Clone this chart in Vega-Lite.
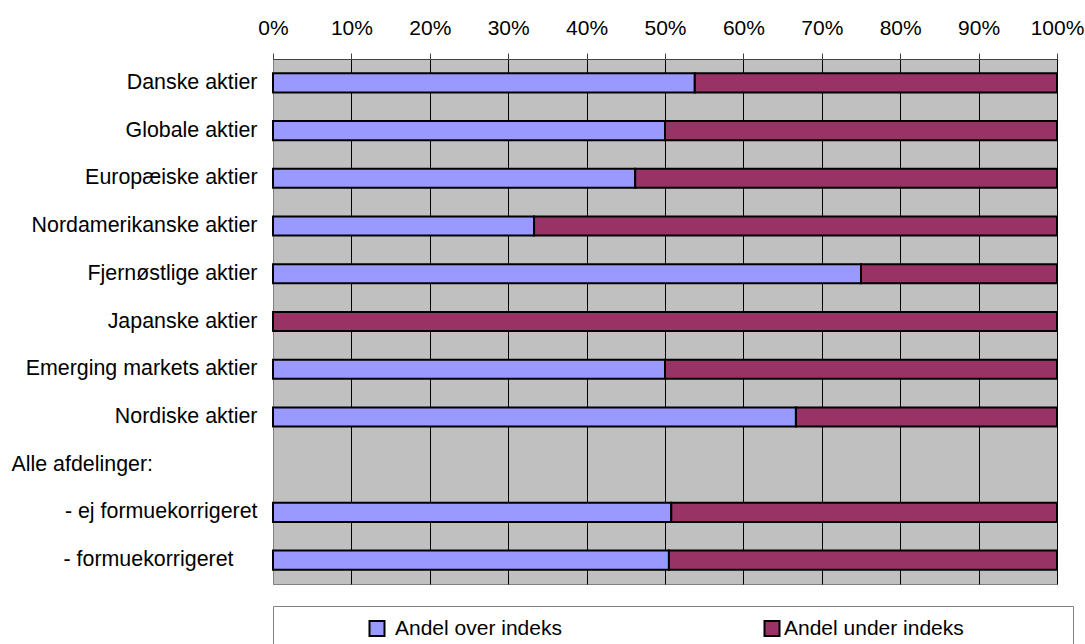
{
  "$schema": "https://vega.github.io/schema/vega-lite/v6.json",
  "padding": {"left": 10, "top": 16, "right": 4, "bottom": 0},
  "background": "white",
  "config": {"font": "Liberation Sans", "view": {"stroke": null}},
  "spacing": 20,
  "vconcat": [
    {
      "width": 784,
      "height": 525,
      "view": {"fill": "#C0C0C0", "stroke": "#808080"},
      "data": {
        "values": [
          {"category": "Danske aktier", "series": "Andel over indeks", "value": 53.8},
          {"category": "Danske aktier", "series": "Andel under indeks", "value": 46.2},
          {"category": "Globale aktier", "series": "Andel over indeks", "value": 50.0},
          {"category": "Globale aktier", "series": "Andel under indeks", "value": 50.0},
          {"category": "Europæiske aktier", "series": "Andel over indeks", "value": 46.2},
          {"category": "Europæiske aktier", "series": "Andel under indeks", "value": 53.8},
          {"category": "Nordamerikanske aktier", "series": "Andel over indeks", "value": 33.3},
          {"category": "Nordamerikanske aktier", "series": "Andel under indeks", "value": 66.7},
          {"category": "Fjernøstlige aktier", "series": "Andel over indeks", "value": 75.0},
          {"category": "Fjernøstlige aktier", "series": "Andel under indeks", "value": 25.0},
          {"category": "Japanske aktier", "series": "Andel under indeks", "value": 100.0},
          {"category": "Emerging markets aktier", "series": "Andel over indeks", "value": 50.0},
          {"category": "Emerging markets aktier", "series": "Andel under indeks", "value": 50.0},
          {"category": "Nordiske aktier", "series": "Andel over indeks", "value": 66.7},
          {"category": "Nordiske aktier", "series": "Andel under indeks", "value": 33.3},
          {"category": "- ej formuekorrigeret", "series": "Andel over indeks", "value": 50.8},
          {"category": "- ej formuekorrigeret", "series": "Andel under indeks", "value": 49.2},
          {"category": "- formuekorrigeret", "series": "Andel over indeks", "value": 50.5},
          {"category": "- formuekorrigeret", "series": "Andel under indeks", "value": 49.5}
        ]
      },
      "mark": {"type": "bar", "stroke": "black", "strokeWidth": 2},
      "encoding": {
        "y": {
          "field": "category",
          "type": "nominal",
          "scale": {
            "domain": ["Danske aktier", "Globale aktier", "Europæiske aktier", "Nordamerikanske aktier", "Fjernøstlige aktier", "Japanske aktier", "Emerging markets aktier", "Nordiske aktier", "Alle afdelinger:", "- ej formuekorrigeret", "- formuekorrigeret"],
            "paddingInner": 0.6,
            "paddingOuter": 0.3
          },
          "axis": {
            "title": null,
            "ticks": false,
            "domain": false,
            "grid": false,
            "labelFontSize": 21.4,
            "labelColor": "black",
            "labelLimit": 400,
            "labelAlign": {"condition": {"test": "datum.value === 'Alle afdelinger:'", "value": "left"}, "value": "right"},
            "labelPadding": {"condition": [{"test": "datum.value === 'Alle afdelinger:'", "value": 262}, {"test": "datum.value === '- formuekorrigeret'", "value": 40}], "value": 16}
          }
        },
        "x": {
          "field": "value",
          "type": "quantitative",
          "stack": "zero",
          "scale": {"domain": [0, 100], "nice": false},
          "axis": {
            "orient": "top",
            "title": null,
            "values": [0, 10, 20, 30, 40, 50, 60, 70, 80, 90, 100],
            "labelExpr": "datum.value + '%'",
            "labelFontSize": 21,
            "labelColor": "black",
            "labelPadding": 15,
            "labelFlush": false,
            "labelOverlap": false,
            "tickSize": 6,
            "tickColor": "#404040",
            "domainColor": "#404040",
            "grid": true,
            "gridColor": {"condition": {"test": "datum.value === 0", "value": "#808080"}, "value": "black"},
            "gridWidth": 1
          }
        },
        "color": {
          "field": "series",
          "type": "nominal",
          "scale": {"domain": ["Andel over indeks", "Andel under indeks"], "range": ["#9999FF", "#993366"]},
          "legend": null
        }
      }
    },
    {
      "width": 800,
      "height": 45,
      "view": {"fill": "white", "stroke": "#808080"},
      "data": {"values": [{"series": "Andel over indeks"}, {"series": "Andel under indeks"}]},
      "layer": [
        {
          "mark": {"type": "point", "shape": "square", "filled": true, "size": 225, "stroke": "black", "strokeWidth": 2, "opacity": 1},
          "encoding": {
            "x": {"field": "series", "type": "nominal", "scale": {"type": "point", "range": [104, 499], "padding": 0}, "axis": null},
            "fill": {"field": "series", "type": "nominal", "scale": {"domain": ["Andel over indeks", "Andel under indeks"], "range": ["#9999FF", "#993366"]}, "legend": null}
          }
        },
        {
          "mark": {"type": "text", "align": "left", "baseline": "middle", "fontSize": 21, "color": "black"},
          "encoding": {
            "x": {"field": "series", "type": "nominal", "scale": {"type": "point", "range": [122, 511], "padding": 0}, "axis": null},
            "text": {"field": "series"}
          }
        }
      ],
      "resolve": {"scale": {"x": "independent"}}
    }
  ]
}
